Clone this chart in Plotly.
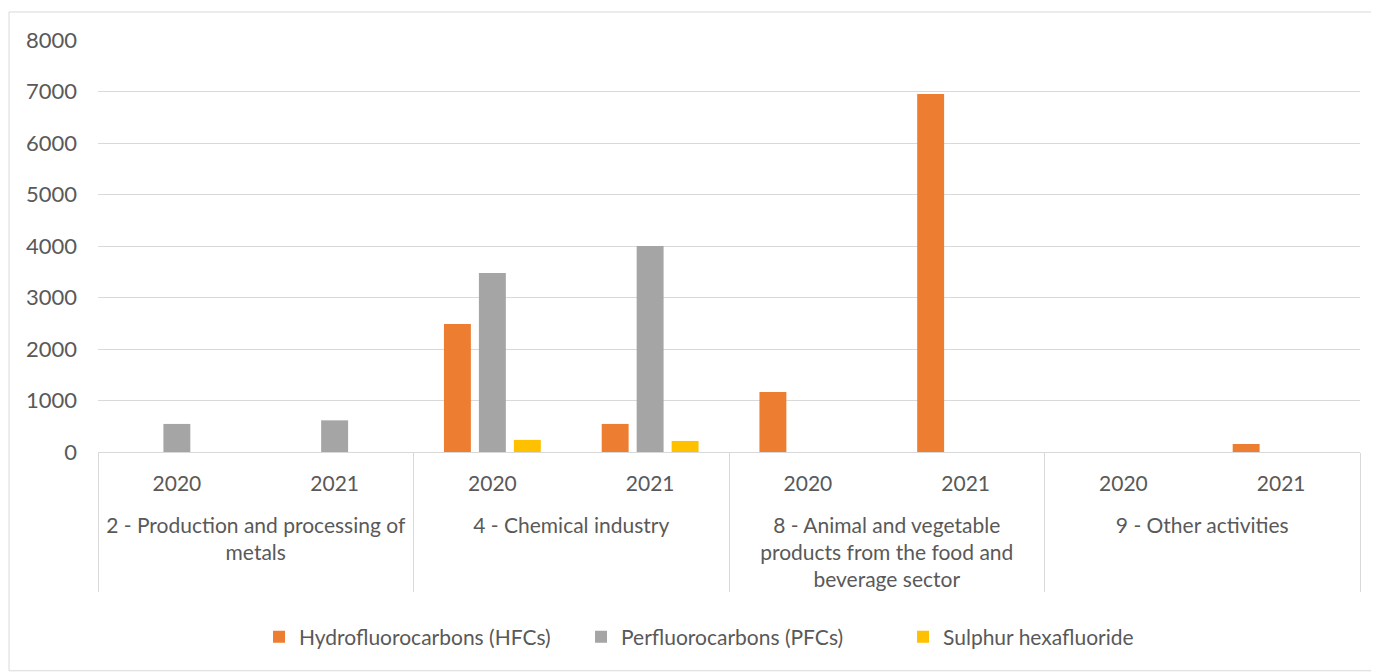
import plotly.graph_objects as go

sectors = [
    "2 - Production and processing of<br>metals",
    "4 - Chemical industry",
    "8 - Animal and vegetable<br>products from the food and<br>beverage sector",
    "9 - Other activities",
]
years = ["2020", "2021"]

hfc = [None, None, 2485, 545, 1165, 6950, None, 155]
pfc = [545, 615, 3475, 4000, None, None, None, None]
sf6 = [None, None, 235, 215, None, None, None, None]

# extra blank line above the sector names pushes them further below the years
x_outer = [" <br>" + s for s in sectors for _ in years]
x_inner = [y for _ in sectors for y in years]

series = [
    ("Hydrofluorocarbons (HFCs)", hfc, "#ED7D31"),
    ("Perfluorocarbons (PFCs)", pfc, "#A5A5A5"),
    ("Sulphur hexafluoride", sf6, "#FFC000"),
]

FONT = "Lato, 'Open Sans', sans-serif"
TXT = "#595959"
GRID = "#D9D9D9"

fig = go.Figure()
for name, vals, color in series:
    fig.add_trace(go.Bar(
        x=[x_outer, x_inner], y=vals, name=name,
        marker=dict(color=color, line=dict(width=0)),
    ))

fig.update_layout(
    width=1379, height=672,
    barmode="group", bargap=0.335, bargroupgap=0.23,
    plot_bgcolor="white", paper_bgcolor="white",
    font=dict(family=FONT, size=21, color=TXT),
    margin=dict(l=90, r=27, t=32, b=228, autoexpand=False),
    showlegend=True,
    legend=dict(orientation="h", x=0.1276, xanchor="left", y=-0.449, yanchor="middle",
                font=dict(size=21, color=TXT), itemwidth=30, traceorder="normal",
                entrywidth=277, entrywidthmode="pixels"),
    shapes=[dict(type="rect", xref="paper", yref="paper",
                 x0=-0.0705, x1=1.0143, y0=-0.531, y1=1.068,
                 line=dict(color=GRID, width=1), fillcolor="rgba(0,0,0,0)", layer="below")],
)
fig.update_yaxes(range=[0, 8000], dtick=1000, showgrid=True, gridcolor=GRID, gridwidth=1,
                 zeroline=False, showline=False, ticks="", tickfont=dict(size=22, color=TXT),
                 ticklabelstandoff=20, automargin=False)
fig.update_xaxes(type="multicategory", showline=True, linecolor=GRID, linewidth=1,
                 showdividers=True, dividercolor=GRID, dividerwidth=1,
                 ticks="", ticklabelstandoff=13,
                 tickfont=dict(size=21, color=TXT), automargin=False)

fig.write_html("out.html")
